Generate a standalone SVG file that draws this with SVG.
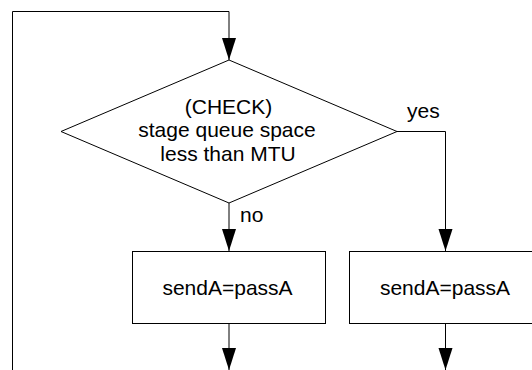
<svg xmlns="http://www.w3.org/2000/svg" width="532" height="370" viewBox="0 0 532 370">
<defs>
<style>
.shape{fill:#fff;stroke:#000;stroke-width:1}
.conn{fill:none;stroke:#000;stroke-width:1}
.t{font-family:"Liberation Sans",Arial,sans-serif;font-size:21px;fill:#000}
.c{text-anchor:middle}
</style>
<marker id="arr" markerUnits="userSpaceOnUse" markerWidth="24" markerHeight="16" refX="22" refY="7" orient="auto">
<path d="M0,0 L22,7 L0,14 Z" fill="#000"/>
</marker>
</defs>
<rect width="532" height="370" fill="#fff"/>
<g id="connectors">
<path class="conn" d="M12.5,370 V11.5 H229 V60" marker-end="url(#arr)"/>
<path class="conn" d="M229,203 V251" marker-end="url(#arr)"/>
<path class="conn" d="M397,131.5 H445.5 V251" marker-end="url(#arr)"/>
<path class="conn" d="M229,324 V370" marker-end="url(#arr)"/>
<path class="conn" d="M445.5,324 V370" marker-end="url(#arr)"/>
<text class="t" x="240" y="222">no</text>
<text class="t" x="407" y="118">yes</text>
</g>
<g id="check">
<polygon class="shape" points="229,60 397,131.5 229,203 61,131.5"/>
<text class="t c" x="228.5" y="113.5">(CHECK)</text>
<text class="t c" x="227" y="137">stage queue space</text>
<text class="t c" x="228" y="160.5">less than MTU</text>
</g>
<g id="boxNo">
<rect class="shape" x="132.5" y="251.5" width="193" height="72"/>
<text class="t c" x="227.5" y="295">sendA=passA</text>
</g>
<g id="boxYes">
<rect class="shape" x="349.5" y="251.5" width="193" height="72"/>
<text class="t c" x="445" y="295">sendA=passA</text>
</g>
</svg>
